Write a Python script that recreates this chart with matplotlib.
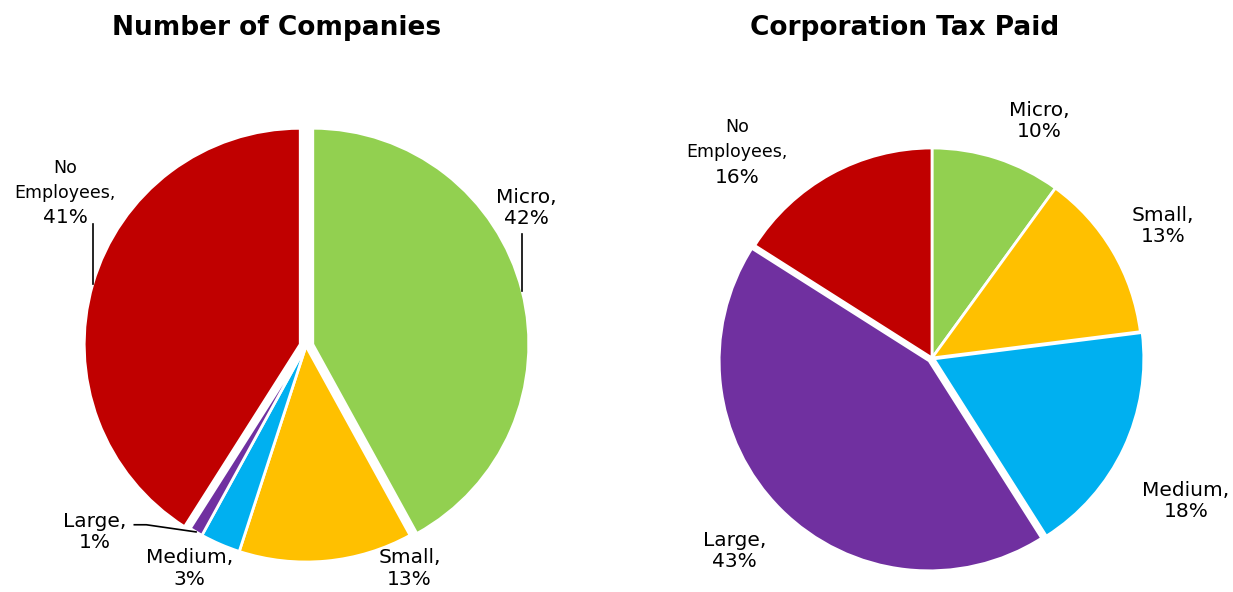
import numpy as np
import matplotlib
matplotlib.use("Agg")
import matplotlib.pyplot as plt

# Dati
categories = ["Micro", "Small", "Medium", "Large", "No Employees"]
companies_pct = [42, 13, 3, 1, 41]
tax_pct = [10, 13, 18, 43, 16]
titles = ["Number of Companies", "Corporation Tax Paid"]

colors = ["#92D050", "#FFC000", "#00B0F0", "#7030A0", "#C00000"]

# Layout (pixel units, figure 1233x592)
W, H = 1233, 592
centers = [(306, H - 346), (932, H - 358)]
radii = [216, 210]
explodes = [[7, 0, 0, 0, 6], [0, 0, 2, 4, 0]]  # px
# posizione etichette in unità di raggio, rispetto al centro
label_pos = [
    [(1.02, 0.64), (0.48, -1.03), (-0.54, -1.03), (-0.98, -0.86), (-1.115, 0.71)],
    [(0.51, 1.13), (1.10, 0.63), (1.21, -0.68), (-0.94, -0.92), (-0.93, 0.98)],
]
leaders = [[0, 4, 3], []]
title_x = [277, 905]

plt.rcParams["font.family"] = ["DejaVu Sans"]
fig = plt.figure(figsize=(W / 100, H / 100), dpi=100)
ax = fig.add_axes([0, 0, 1, 1])

for p, vals in enumerate([companies_pct, tax_pct]):
    cx, cy = centers[p]
    R = radii[p]
    wedges, _ = ax.pie(vals, colors=colors, startangle=90, counterclock=False,
                       center=(cx, cy), radius=R, explode=explodes[p],
                       wedgeprops=dict(edgecolor="white", linewidth=2), frame=True)
    for i, w in enumerate(wedges):
        lx = cx + label_pos[p][i][0] * R
        ly = cy + label_pos[p][i][1] * R
        if categories[i] == "No Employees":
            ax.text(lx, ly + 25, "No", ha="center", va="center", fontsize=12.5)
            ax.text(lx, ly, "Employees,", ha="center", va="center", fontsize=12.5)
            ax.text(lx, ly - 25, f"{vals[i]}%", ha="center", va="center", fontsize=14.5)
        else:
            ax.text(lx, ly, f"{categories[i]},\n{vals[i]}%", ha="center",
                    va="center", fontsize=14.5, linespacing=1.15)
        if i in leaders[p]:
            mid = np.deg2rad((w.theta1 + w.theta2) / 2)
            wx, wy = w.center
            ex = wx + w.r * np.cos(mid)
            ey = wy + w.r * np.sin(mid)
            if categories[i] == "Large":
                ax.plot([lx + 40, lx + 52, ex], [ly + 7, ly + 7, ey],
                        color="black", lw=1.2)
            elif categories[i] == "Micro":
                ax.plot([ex, ex], [ey, ly - 26], color="black", lw=1.2)
            else:
                ax.plot([ex, ex], [ey, ly - 31], color="black", lw=1.2)
    ax.text(title_x[p], H - 28, titles[p], ha="center", va="center",
            fontsize=19, fontweight="bold")

ax.set_xlim(0, W)
ax.set_ylim(0, H)
ax.set_aspect("auto")
ax.axis("off")
fig.savefig("out.png", dpi=100)
